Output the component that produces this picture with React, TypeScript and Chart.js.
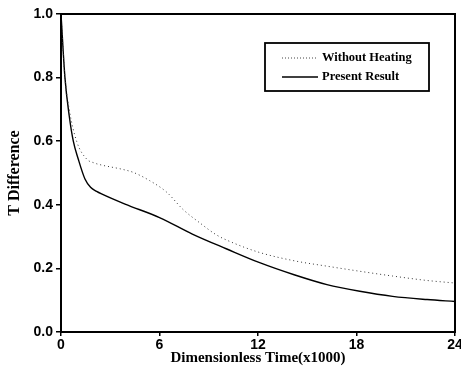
import React, { useEffect, useRef } from "react";
import { Chart, registerables } from "chart.js";

Chart.register(...registerables);

const timeWithout = [0, 0.24, 0.5, 0.95, 1.56, 2.0, 2.47, 3.7, 4.4, 5.4, 6.43, 7.44, 8.46, 9.48, 10.5, 12.1, 14.2, 16.2, 18.2, 20.2, 22.3, 24];
const withoutHeating = [1.0, 0.8, 0.7, 0.6, 0.544, 0.532, 0.525, 0.512, 0.502, 0.476, 0.44, 0.385, 0.343, 0.305, 0.28, 0.25, 0.224, 0.207, 0.191, 0.176, 0.162, 0.154];
const timePresent = [0, 0.24, 0.5, 0.75, 1.05, 1.46, 1.8, 2.17, 2.47, 3.9, 6.0, 8.0, 10.1, 12.1, 14.2, 16.2, 18.2, 20.2, 22.3, 24];
const presentResult = [1.0, 0.8, 0.68, 0.6, 0.544, 0.481, 0.455, 0.442, 0.434, 0.402, 0.36, 0.308, 0.261, 0.218, 0.18, 0.149, 0.128, 0.112, 0.102, 0.096];
const xTicks = [0, 6, 12, 18, 24];
const seriesNames = ["Without Heating", "Present Result"];

const framePlugin = {
  id: "frame",
  afterDraw(chart: any) {
    const { ctx, chartArea } = chart;
    ctx.save();
    ctx.strokeStyle = "#000";
    ctx.lineWidth = 2;
    ctx.strokeRect(chartArea.left, chartArea.top, chartArea.right - chartArea.left, chartArea.bottom - chartArea.top);
    // legend box
    const bx = chartArea.left + 204;
    const by = chartArea.top + 29;
    const bw = 164;
    const bh = 48;
    ctx.lineWidth = 1.8;
    ctx.strokeRect(bx, by, bw, bh);
    ctx.font = "bold 12.5px 'Liberation Serif', 'Times New Roman', serif";
    ctx.fillStyle = "#000";
    ctx.textBaseline = "middle";
    ctx.textAlign = "left";
    const rows = [by + 15, by + 34];
    ctx.lineWidth = 1;
    ctx.strokeStyle = "#444";
    ctx.setLineDash([1, 2]);
    ctx.beginPath();
    ctx.moveTo(bx + 17, rows[0]);
    ctx.lineTo(bx + 53, rows[0]);
    ctx.stroke();
    ctx.setLineDash([]);
    ctx.strokeStyle = "#000";
    ctx.lineWidth = 1.3;
    ctx.beginPath();
    ctx.moveTo(bx + 17, rows[1]);
    ctx.lineTo(bx + 53, rows[1]);
    ctx.stroke();
    ctx.fillText(seriesNames[0], bx + 57, rows[0]);
    ctx.fillText(seriesNames[1], bx + 57, rows[1]);
    ctx.restore();
  },
};

export default function App() {
  const ref = useRef<HTMLCanvasElement>(null);
  useEffect(() => {
    if (!ref.current) return;
    const chart = new Chart(ref.current, {
      type: "line",
      data: {
        datasets: [
          {
            label: seriesNames[0],
            data: timeWithout.map((t, i) => ({ x: t, y: withoutHeating[i] })),
            borderColor: "#333",
            borderWidth: 1,
            borderDash: [1, 3],
            pointRadius: 0,
            cubicInterpolationMode: "monotone",
            fill: false,
          },
          {
            label: seriesNames[1],
            data: timePresent.map((t, i) => ({ x: t, y: presentResult[i] })),
            borderColor: "#000",
            borderWidth: 1.4,
            pointRadius: 0,
            cubicInterpolationMode: "monotone",
            fill: false,
          },
        ],
      },
      options: {
        responsive: false,
        animation: false,
        layout: { padding: { top: 14, right: 6, left: 0, bottom: 0 } },
        plugins: { legend: { display: false }, tooltip: { enabled: false } },
        scales: {
          x: {
            type: "linear",
            min: 0,
            max: 24,
            afterBuildTicks: (s: any) => {
              s.ticks = xTicks.map((v) => ({ value: v }));
            },
            afterFit: (s: any) => {
              s.height = 50;
              s.paddingLeft = 0;
              s.paddingRight = 0;
            },
            grid: { drawOnChartArea: false, drawTicks: true, tickLength: 4, color: "#000", lineWidth: 1.5 },
            border: { display: true, color: "#000", width: 2 },
            ticks: {
              color: "#000",
              padding: 1,
              maxRotation: 0,
              font: { family: "'Liberation Sans', Arial, sans-serif", size: 14, weight: "bold" },
            },
            title: {
              display: true,
              text: "Dimensionless Time(x1000)",
              color: "#000",
              padding: { top: 0, bottom: 15 },
              font: { family: "'Liberation Serif', 'Times New Roman', serif", size: 15, weight: "bold" },
            },
          },
          y: {
            min: 0,
            max: 1,
            afterFit: (s: any) => {
              s.width = 61;
            },
            grid: { drawOnChartArea: false, drawTicks: true, tickLength: 5, color: "#000", lineWidth: 1.5 },
            border: { display: true, color: "#000", width: 2 },
            ticks: {
              stepSize: 0.2,
              color: "#000",
              padding: 3,
              callback: (v: any) => Number(v).toFixed(1),
              font: { family: "'Liberation Sans', Arial, sans-serif", size: 14, weight: "bold" },
            },
            title: {
              display: true,
              text: "T Difference",
              color: "#000",
              padding: { bottom: 0, top: 5 },
              font: { family: "'Liberation Serif', 'Times New Roman', serif", size: 16, weight: "bold" },
            },
          },
        },
      },
      plugins: [framePlugin],
    } as any);
    return () => chart.destroy();
  }, []);
  return (
    <div style={{ position: "fixed", left: 0, top: 0, width: 461, height: 382, background: "#fff" }}>
      <canvas ref={ref} width={461} height={382} />
    </div>
  );
}
